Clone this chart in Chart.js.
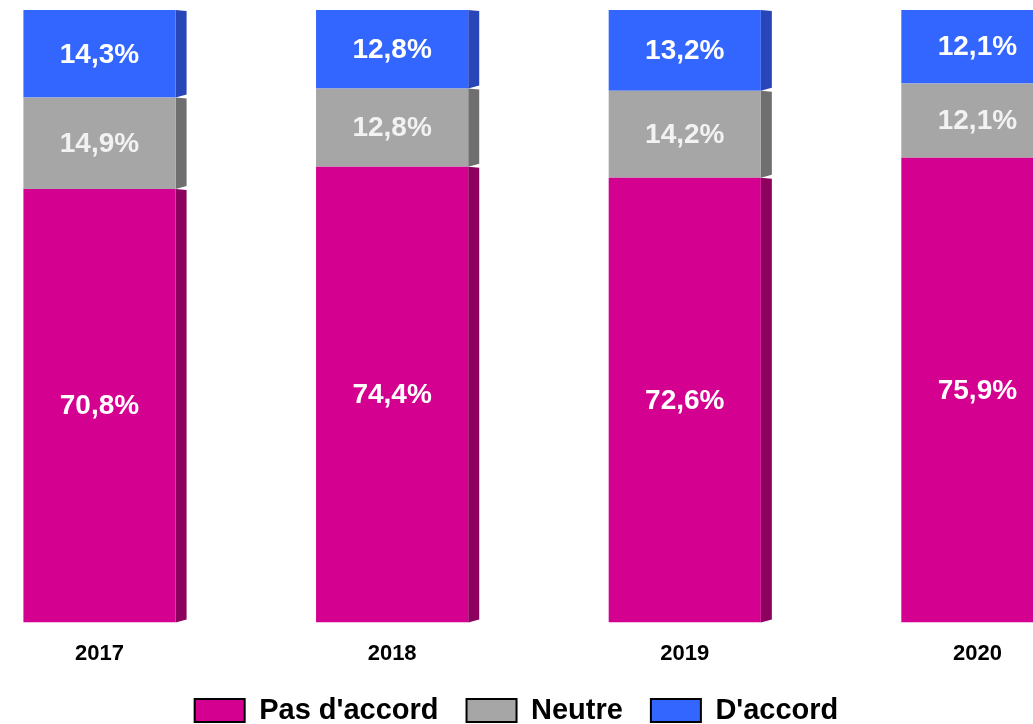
<!DOCTYPE html>
<html>
<head>
<meta charset="utf-8">
<script src="https://cdn.jsdelivr.net/npm/chart.js@4/dist/chart.umd.min.js"></script>
<style>
  html, body { margin: 0; padding: 0; background: #fff; }
  #wrap { position: relative; width: 1033px; height: 724px; overflow: hidden; }
</style>
</head>
<body>
<div id="wrap"><canvas id="chart"></canvas></div>
<script>
// --- chart data ---
const years = [2017, 2018, 2019, 2020];
const pasDaccord = [70.8, 74.4, 72.6, 75.9];
const neutre = [14.9, 12.8, 14.2, 12.1];
const daccord = [14.3, 12.8, 13.2, 12.1];
const seriesNames = ["Pas d'accord", 'Neutre', "D'accord"];

const fronts = ['#d4008f', '#a6a6a6', '#3366ff'];
const sides = ['#8c005e', '#6f6f6f', '#2846b8'];
const labelColors = ['#ffffff', '#f2f2f2', '#ffffff'];

function points(values) {
  return years.map((y, i) => ({ x: y, y: values[i] }));
}

// draws the dark right-hand face of each bar segment (fake 3D)
const sideFaces = {
  id: 'sideFaces',
  beforeDatasetsDraw(chart) {
    const ctx = chart.ctx;
    chart.data.datasets.forEach((ds, d) => {
      chart.getDatasetMeta(d).data.forEach(el => {
        const p = el.getProps(['x', 'y', 'base', 'width'], true);
        const xr = p.x + p.width / 2;
        ctx.save();
        ctx.fillStyle = sides[d];
        ctx.beginPath();
        ctx.moveTo(xr, p.y);
        ctx.lineTo(xr + 11, p.y + 1);
        ctx.lineTo(xr + 11, p.base - 3);
        ctx.lineTo(xr, p.base);
        ctx.closePath();
        ctx.fill();
        ctx.restore();
      });
    });
  }
};

// percentage labels inside each segment
const segmentLabels = {
  id: 'segmentLabels',
  afterDatasetsDraw(chart) {
    const ctx = chart.ctx;
    ctx.save();
    ctx.font = 'bold 28px "Liberation Sans", Arial, sans-serif';
    ctx.textAlign = 'center';
    ctx.textBaseline = 'middle';
    chart.data.datasets.forEach((ds, d) => {
      chart.getDatasetMeta(d).data.forEach((el, i) => {
        const p = el.getProps(['x', 'y', 'base'], true);
        const txt = ds.data[i].y.toFixed(1).replace('.', ',') + '%';
        ctx.fillStyle = labelColors[d];
        ctx.fillText(txt, p.x, (p.y + p.base) / 2 + 1);
      });
    });
    ctx.restore();
  }
};

// legend keeps its wide item spacing but sits closer to the year labels
const liftLegend = {
  id: 'liftLegend',
  afterLayout(chart) {
    if (chart.legend) {
      chart.legend.top -= 17;
      chart.legend.bottom -= 17;
    }
  }
};

const datasets = [pasDaccord, neutre, daccord].map((vals, d) => ({
  label: seriesNames[d],
  data: points(vals),
  backgroundColor: fronts[d],
  borderWidth: 0,
  barPercentage: 0.52,
  categoryPercentage: 1
}));

new Chart(document.getElementById('chart'), {
  type: 'bar',
  data: { datasets: datasets },
  options: {
    responsive: true,
    maintainAspectRatio: false,
    animation: false,
    layout: { padding: { top: 10, bottom: -28 } },
    scales: {
      x: {
        type: 'linear',
        stacked: true,
        offset: false,
        min: 2016.66,
        max: 2020.19,
        grid: { display: false, drawTicks: false },
        border: { display: false },
        ticks: {
          stepSize: 1,
          includeBounds: false,
          padding: 18,
          color: '#000',
          font: { family: '"Liberation Sans", Arial, sans-serif', size: 22, weight: 'bold' },
          callback: v => (years.includes(v) ? String(v) : '')
        }
      },
      y: {
        stacked: true,
        min: 0,
        max: 100,
        display: false
      }
    },
    plugins: {
      legend: {
        position: 'bottom',
        labels: {
          boxWidth: 50,
          boxHeight: 23,
          padding: 28,
          color: '#000',
          font: { family: '"Liberation Sans", Arial, sans-serif', size: 29, weight: 'bold' },
          generateLabels(chart) {
            return chart.data.datasets.map((ds, i) => ({
              text: ds.label,
              fillStyle: fronts[i],
              strokeStyle: '#000',
              lineWidth: 2,
              datasetIndex: i
            }));
          }
        }
      },
      tooltip: { enabled: false }
    }
  },
  plugins: [sideFaces, segmentLabels, liftLegend]
});
</script>
</body>
</html>
